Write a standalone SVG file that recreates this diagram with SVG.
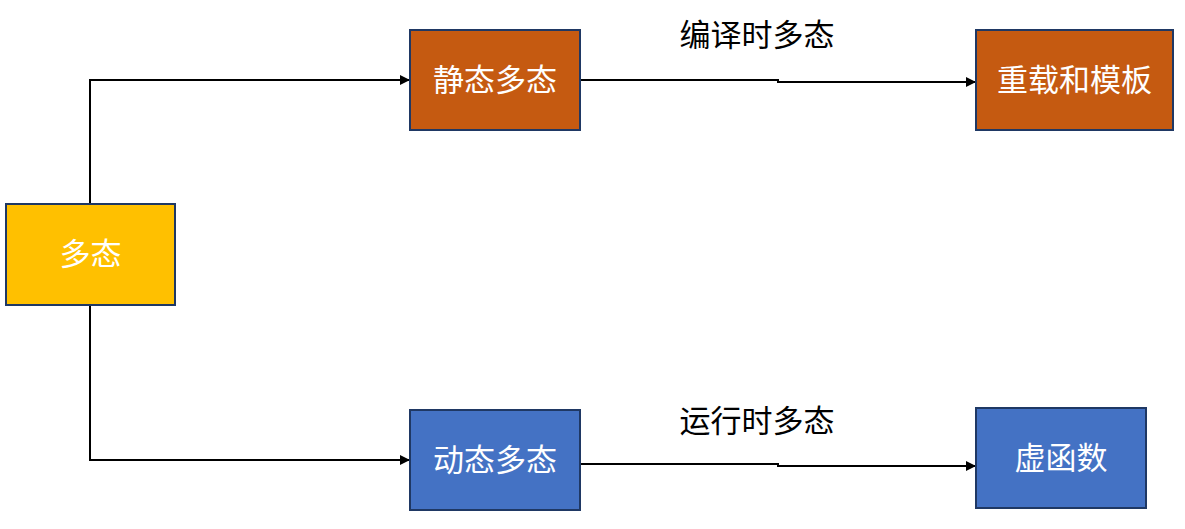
<svg xmlns="http://www.w3.org/2000/svg" width="1185" height="529" viewBox="0 0 1185 529">
<style>
.box{stroke:#1F3864;stroke-width:2}
.t{font-family:"Liberation Sans","Noto Sans CJK SC",sans-serif;font-size:31px;fill:#fff;text-anchor:middle;dominant-baseline:central}
.lbl{font-family:"Liberation Sans","Noto Sans CJK SC",sans-serif;font-size:31px;fill:#000;text-anchor:middle;dominant-baseline:central}
.c{fill:none;stroke:#000;stroke-width:2}
</style>
<defs>
<marker id="arr" viewBox="0 0 10 10" refX="10" refY="5" markerWidth="5" markerHeight="5" orient="auto" markerUnits="strokeWidth">
<path d="M0,0L10,5L0,10z" fill="#000"/>
</marker>
</defs>
<rect width="1185" height="529" fill="#fff"/>
<g id="connectors">
<path class="c" d="M90,204V80H410" marker-end="url(#arr)"/>
<path class="c" d="M90,305V460H410" marker-end="url(#arr)"/>
<path class="c" d="M580,80H778V82H976" marker-end="url(#arr)"/>
<path class="c" d="M580,464H778V466H976" marker-end="url(#arr)"/>
<text class="lbl" x="757" y="35">编译时多态</text>
<text class="lbl" x="757" y="421">运行时多态</text>
</g>
<g id="n-polymorphism">
<rect class="box" x="6" y="204" width="169" height="101" fill="#FFC000"/>
<text class="t" x="90.5" y="254.5">多态</text>
</g>
<g id="n-static">
<rect class="box" x="410" y="30" width="170" height="100" fill="#C55A11"/>
<text class="t" x="495" y="80">静态多态</text>
</g>
<g id="n-overload">
<rect class="box" x="976" y="30" width="197" height="100" fill="#C55A11"/>
<text class="t" x="1074.5" y="80">重载和模板</text>
</g>
<g id="n-dynamic">
<rect class="box" x="410" y="410" width="170" height="100" fill="#4472C4"/>
<text class="t" x="495" y="460">动态多态</text>
</g>
<g id="n-virtual">
<rect class="box" x="976" y="408" width="170" height="100" fill="#4472C4"/>
<text class="t" x="1061" y="458">虚函数</text>
</g>
</svg>
